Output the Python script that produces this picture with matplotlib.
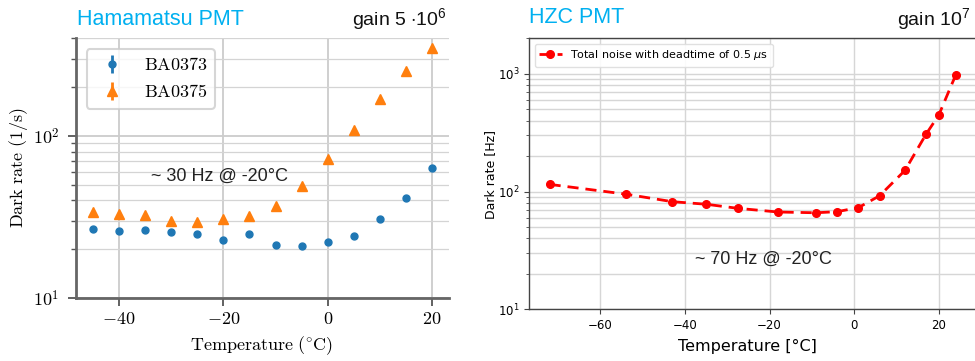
import numpy as np
import matplotlib
matplotlib.use("Agg")
import matplotlib.pyplot as plt
from matplotlib.ticker import LogLocator, NullFormatter

plt.rcParams['mathtext.fontset'] = 'cm'
plt.rcParams['mathtext.rm'] = 'Liberation Sans'
plt.rcParams['font.family'] = ['DejaVu Sans']

# ---------------- data ----------------
# Hamamatsu PMT
temp_ham = [-45, -40, -35, -30, -25, -20, -15, -10, -5, 0, 5, 10, 15, 20]
rate_ba0373 = [26.8, 25.8, 26.1, 25.5, 24.7, 22.8, 24.8, 21.1, 20.9, 22.2, 24.1, 30.6, 41.4, 63.8]
rate_ba0375 = [33.8, 32.9, 32.4, 29.7, 29.3, 30.9, 31.9, 36.8, 49.4, 71.8, 109.5, 170, 253, 349]
series_names_ham = ['BA0373', 'BA0375']

# HZC PMT
temp_hzc = [-72, -54, -43, -35, -27.5, -18, -9, -4, 1, 6, 12, 17, 20, 24]
rate_hzc = [115, 95, 82, 78, 72, 67, 66, 67.5, 73, 92, 151, 307, 446, 975]
series_name_hzc = r'Total noise with deadtime of 0.5 $\mu$s'

xticks_ham = [-40, -20, 0, 20]
yticks_ham = [10, 100]
xticks_hzc = [-60, -40, -20, 0, 20]
yticks_hzc = [10, 100, 1000]

W, H = 975, 361
fig = plt.figure(figsize=(W / 100, H / 100), dpi=100)

def fx(px):
    return px / W

def fy(py):
    return 1 - py / H

# ---------------- left panel ----------------
ax1 = fig.add_axes([fx(76), fy(298), fx(449) - fx(76), fy(38.3) - fy(298)])
ax1.set_yscale('log')
zeros = np.zeros(len(temp_ham))
ax1.errorbar(temp_ham, rate_ba0373, yerr=zeros, fmt='o', color='#1f77b4', ms=5,
             elinewidth=2, label=r'$\mathrm{%s}$' % series_names_ham[0], zorder=3)
ax1.errorbar(temp_ham, rate_ba0375, yerr=zeros, fmt='^', color='#ff7f0e', ms=6.5,
             elinewidth=2, label=r'$\mathrm{%s}$' % series_names_ham[1], zorder=3)
ax1.set_xlim(-48.25, 23.25)
ax1.set_ylim(10, 400)
ax1.set_xticks(xticks_ham)
ax1.set_xticklabels([r'$%d$' % v for v in xticks_ham], fontsize=13)
ax1.set_yticks(yticks_ham)
ax1.set_yticklabels([r'$10^{%d}$' % int(np.log10(v)) for v in yticks_ham], fontsize=13)
ax1.yaxis.set_minor_locator(LogLocator(base=10, subs=np.arange(2, 10)))
ax1.yaxis.set_minor_formatter(NullFormatter())
ax1.grid(True, which='major', color='#cccccc', lw=1.3)
ax1.grid(True, which='minor', axis='y', color='#d4d4d4', lw=0.9)
for s in ['top', 'right']:
    ax1.spines[s].set_visible(False)
for s in ['left', 'bottom']:
    ax1.spines[s].set_color('#666666')
    ax1.spines[s].set_linewidth(2)
ax1.tick_params(which='major', length=6, width=1.3, color='#555555', pad=6)
ax1.tick_params(axis='x', which='major', pad=3)
ax1.tick_params(which='minor', length=3.5, width=1, color='#555555')
ax1.set_xlabel(r'$\mathrm{Temperature\ (^{\circ}C)}$', fontsize=13)
ax1.xaxis.label.set_va('center')
ax1.xaxis.set_label_coords(0.4987, -0.185)
ax1.set_ylabel(r'$\mathrm{Dark\ rate\ (1/s)}$', fontsize=13)
ax1.yaxis.label.set_va('center')
ax1.yaxis.set_label_coords(-0.155, 0.5)
leg1 = ax1.legend(loc='upper left', fontsize=13, frameon=True, fancybox=True,
                  edgecolor='#cccccc', framealpha=0.8, borderpad=0.4,
                  handlelength=2.0, handletextpad=0.75, bbox_to_anchor=(0.0, 1.0),
                  borderaxespad=0.6)
leg1.get_frame().set_linewidth(1.5)

# ---------------- right panel ----------------
ax2 = fig.add_axes([fx(529.3), fy(309.3), fx(976) - fx(529.3), fy(38.3) - fy(309.3)])
ax2.set_yscale('log')
ax2.plot(temp_hzc, rate_hzc, 'o--', color='red', ms=5.5, lw=2, dashes=(4, 2.5),
         label=series_name_hzc, zorder=3)
ax2.set_xlim(-76.8, 28.8)
ax2.set_ylim(10, 2000)
ax2.set_xticks(xticks_hzc)
ax2.set_xticklabels(['\u2212%d' % -v if v < 0 else '%d' % v for v in xticks_hzc], fontsize=8.5)
ax2.set_yticks(yticks_hzc)
ax2.set_yticklabels([r'$10^{%d}$' % int(np.log10(v)) for v in yticks_hzc], fontsize=8.5,
                    math_fontfamily='dejavusans')
ax2.yaxis.set_minor_locator(LogLocator(base=10, subs=np.arange(2, 10)))
ax2.yaxis.set_minor_formatter(NullFormatter())
ax2.grid(True, which='major', color='#d6d6d6', lw=1)
ax2.grid(True, which='minor', axis='y', color='#d6d6d6', lw=1)
for s in ax2.spines.values():
    s.set_color('#444444')
    s.set_linewidth(1)
ax2.tick_params(which='major', length=3.5, color='#444444')
ax2.tick_params(which='minor', length=2, color='#444444')
ax2.set_xlabel('Temperature [\u00b0C]', fontsize=11.5)
ax2.xaxis.label.set_va('center')
ax2.xaxis.set_label_coords(0.4885, -0.138)
ax2.set_ylabel('Dark rate [Hz]', fontsize=9)
ax2.yaxis.label.set_va('center')
ax2.yaxis.set_label_coords(-0.0857, 0.499)
ax2.legend(loc='upper left', prop={'size': 8, 'math_fontfamily': 'dejavusans'},
           frameon=True, edgecolor='#dddddd', framealpha=0.9)

# ---------------- annotations ----------------
ann = dict(family='Liberation Sans', math_fontfamily='custom')
fig.text(fx(77), fy(25), 'Hamamatsu PMT', color='#00b0f0', fontsize=15.5, ha='left',
         va='baseline', **ann)
fig.text(fx(447), fy(26), r'gain 5 $\cdot$10$^{\mathrm{6}}$', color='#111111', fontsize=14,
         ha='right', va='baseline', **ann)
fig.text(fx(529), fy(23), 'HZC PMT', color='#00b0f0', fontsize=15.5, ha='left',
         va='baseline', **ann)
fig.text(fx(970), fy(26), r'gain 10$^{\mathrm{7}}$', color='#111111', fontsize=14,
         ha='right', va='baseline', **ann)
fig.text(fx(150.7), fy(176.7), '~ 30 Hz @ -20\u00b0C', color='#222222', fontsize=13,
         ha='left', va='center', **ann)
fig.text(fx(695), fy(259), '~ 70 Hz @ -20\u00b0C', color='#222222', fontsize=13,
         ha='left', va='center', **ann)

fig.savefig('out.png', dpi=100)
